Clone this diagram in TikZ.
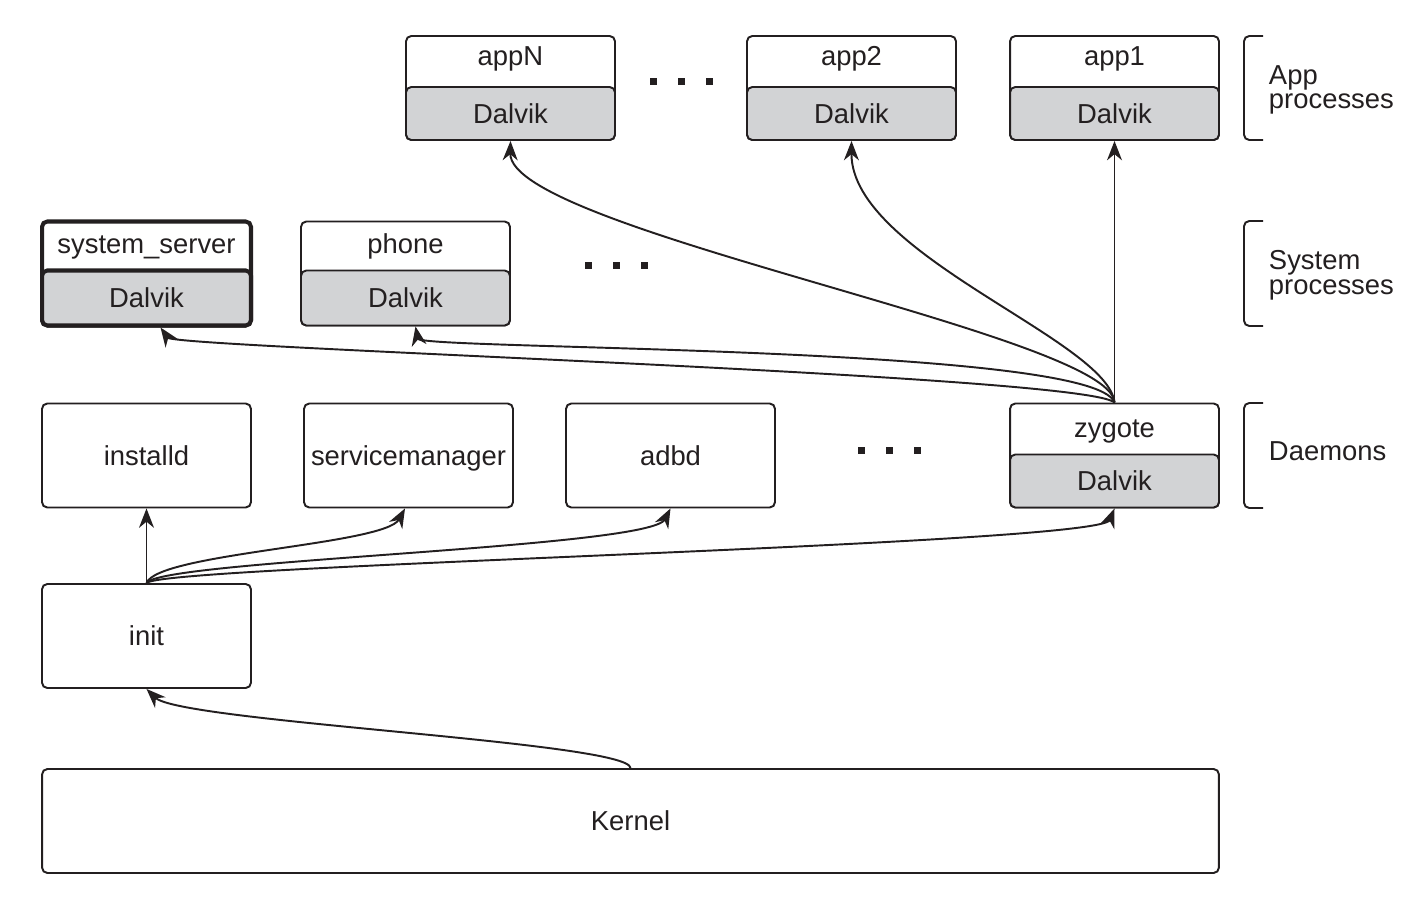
\documentclass[tikz,border=0pt]{standalone}
\usepackage{fontspec}
\setmainfont{Liberation Sans}
\usetikzlibrary{arrows.meta}
\definecolor{dgray}{RGB}{210,211,213}
\definecolor{ink}{RGB}{35,31,32}
\begin{document}
\begin{tikzpicture}[x=0.02cm,y=-0.02cm,
  font=\fontsize{15.6}{14}\selectfont, line width=1.1pt, draw=ink, text=ink,
  proc/.style={draw=ink, rounded corners=3pt, minimum width=4.18cm, minimum height=2.08cm, inner sep=0pt, fill=white},
  dal/.style={draw=ink, fill=dgray, rounded corners=3pt, minimum width=4.18cm, minimum height=1.06cm, inner sep=0pt, anchor=south},
  ttl/.style={inner sep=0pt, anchor=base},
  side/.style={inner sep=0pt, anchor=west, align=left},
  arr/.style={draw=ink, -{Stealth[length=11pt,width=8.5pt,inset=3.5pt]}, line width=1.1pt},
  brk/.style={draw=ink, rounded corners=3pt, line width=1.1pt},
  dot/.style={fill=ink}]
\path[use as bounding box, fill=white] (0,0) rectangle (1423,905);

% App processes
\node[proc] (appN) at (510.5,88) {};
\node[dal] (appNd) at (appN.south) {Dalvik};
\node[ttl] (appNt) at (510.5,66) {appN};
\node[proc] (app2) at (851.5,88) {};
\node[dal] (app2d) at (app2.south) {Dalvik};
\node[ttl] (app2t) at (851.5,66) {app2};
\node[proc] (app1) at (1114.5,88) {};
\node[dal] (app1d) at (app1.south) {Dalvik};
\node[ttl] (app1t) at (1114.5,66) {app1};

% System processes
\node[proc, line width=2.3pt] (ss) at (146.5,273.5) {};
\node[dal, line width=2.3pt, minimum height=1.1cm] (ssd) at (ss.south) {Dalvik};
\node[ttl] (sst) at (146.5,254) {system\_server};
\node[proc] (ph) at (405.5,273.5) {};
\node[dal, minimum height=1.1cm] (phd) at (ph.south) {Dalvik};
\node[ttl] (pht) at (405.5,254) {phone};

% Daemons
\node[proc] (inst) at (146.5,455.5) {};
\node[ttl] (instt) at (146.5,465) {installd};
\node[proc] (svc) at (408.5,455.5) {};
\node[ttl] (svct) at (408.5,465) {servicemanager};
\node[proc] (adbd) at (670.5,455.5) {};
\node[ttl] (adbdt) at (670.5,465) {adbd};
\node[proc] (zyg) at (1114.5,455.5) {};
\node[dal] (zygd) at (zyg.south) {Dalvik};
\node[ttl] (zygt) at (1114.5,438) {zygote};

% init and kernel
\node[proc] (init) at (146.5,636) {init};
\node[proc, minimum width=23.54cm] (kern) at (630.5,821) {Kernel};

% dots
\foreach \x/\y in {653/82,681/82,709/82,588/266,616/266,644/266,861/450,889/450,917/450}
  \fill[dot] (\x-3.5,\y-3.5) rectangle (\x+3.5,\y+3.5);

% brackets and side labels
\draw[brk] (1263,36) -- (1244,36) -- (1244,140) -- (1263,140);
\draw[brk] (1263,221) -- (1244,221) -- (1244,326) -- (1263,326);
\draw[brk] (1263,403) -- (1244,403) -- (1244,508) -- (1263,508);
\node[side] (lapp) at (1268,90) {App\\processes};
\node[side] (lsys) at (1268,275) {System\\processes};
\node[side] (ldae) at (1268,451) {Daemons};

% zygote forks
\draw[arr] (zyg.north) -- (app1d.south);
\draw[arr] (zyg.north) .. controls (1108,340) and (851,255) .. (app2d.south);
\draw[arr] (zyg.north) .. controls (1112,335) and (509,230) .. (appNd.south);
\draw[arr] (zyg.north) .. controls (1095,345) and (420,350) .. ([xshift=0.2cm]phd.south);
\draw[arr] (zyg.north) .. controls (1085,375) and (175,348) .. ([xshift=0.28cm]ssd.south);

% init starts daemons
\draw[arr] (init.north) -- (inst.south);
\draw[arr] (init.north) .. controls (158,553) and (385,545) .. ([xshift=-0.07cm]svc.south);
\draw[arr] (init.north) .. controls (160,560) and (650,548) .. (adbd.south);
\draw[arr] (init.north) .. controls (162,565) and (1100,545) .. (zygd.south);

% kernel starts init
\draw[arr] (kern.north) .. controls (630,742) and (180,722) .. (init.south);
\end{tikzpicture}
\end{document}
